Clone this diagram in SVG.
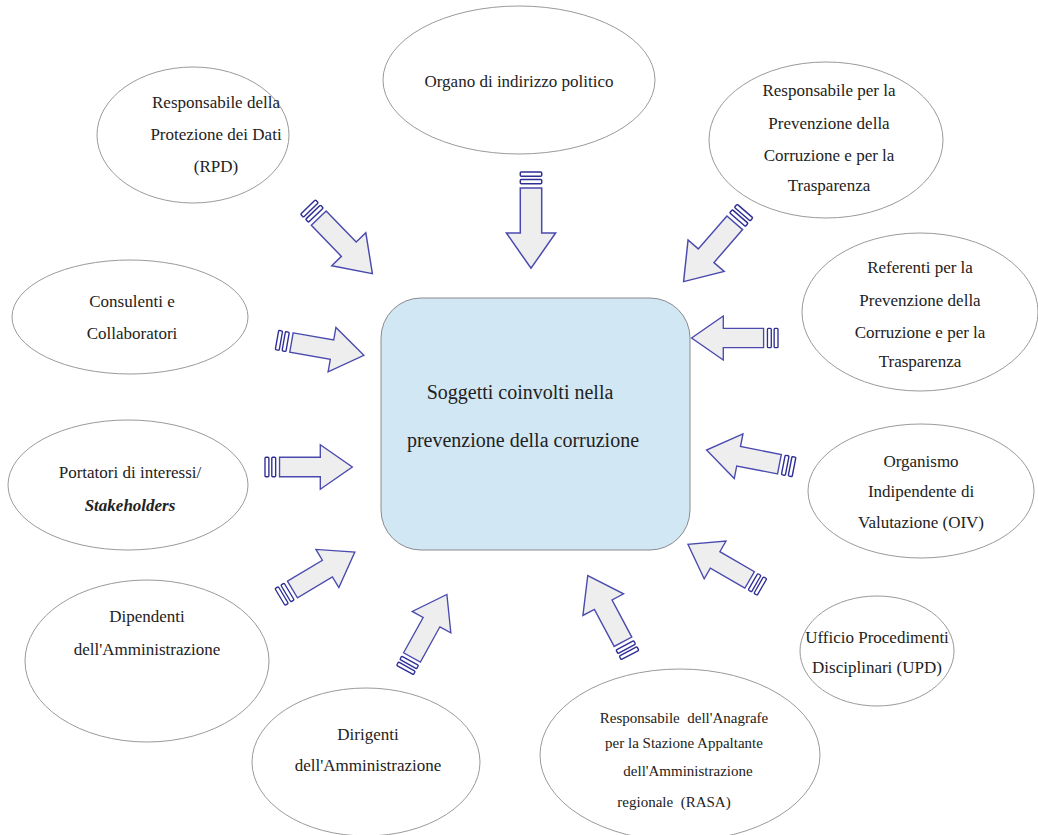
<svg xmlns="http://www.w3.org/2000/svg" width="1038" height="835" viewBox="0 0 1038 835">
<defs>
<style>
.ell{fill:#ffffff;stroke:#9a9a9a;stroke-width:1}
.t{font-family:"Liberation Serif","DejaVu Serif",serif;font-size:17px;fill:#222;text-anchor:middle}
.tc{font-family:"Liberation Serif","DejaVu Serif",serif;font-size:20px;fill:#222;text-anchor:middle}
.ts{font-family:"Liberation Serif","DejaVu Serif",serif;font-size:15px;fill:#222;text-anchor:middle}
.ab{fill:#eeeeee;stroke:#4a4aae;stroke-width:1.4;stroke-linejoin:miter}
.st{fill:#ffffff;stroke:#2e2e96;stroke-width:1.4}
</style>
<g id="arr">
<rect class="st" x="0" y="-10" width="4" height="20" rx="1"/>
<rect class="st" x="7" y="-10" width="4" height="20" rx="1"/>
<path class="ab" d="M15,-10 H57 V-23 L90,0 L57,23 V10 H15 Z"/>
</g>
</defs>
<rect width="1038" height="835" fill="#ffffff"/>

<g id="center">
<rect x="381" y="298" width="309" height="252" rx="40" ry="40" fill="#d2e7f4" stroke="#8a8a8a" stroke-width="1"/>
<text class="tc" x="520" y="399">Soggetti coinvolti nella</text>
<text class="tc" x="523" y="447">prevenzione della corruzione</text>
</g>

<g id="rpd">
<ellipse class="ell" cx="193" cy="135" rx="96" ry="68"/>
<text class="t" x="216" y="108">Responsabile della</text>
<text class="t" x="216" y="140">Protezione dei Dati</text>
<text class="t" x="216" y="172">(RPD)</text>
</g>

<g id="organo">
<ellipse class="ell" cx="519" cy="80" rx="136" ry="74"/>
<text class="t" x="519" y="87">Organo di indirizzo politico</text>
</g>

<g id="rpct">
<ellipse class="ell" cx="826" cy="140" rx="117" ry="78"/>
<text class="t" x="829" y="96">Responsabile per la</text>
<text class="t" x="829" y="129">Prevenzione della</text>
<text class="t" x="829" y="161">Corruzione e per la</text>
<text class="t" x="829" y="191">Trasparenza</text>
</g>

<g id="referenti">
<ellipse class="ell" cx="920" cy="312" rx="118" ry="79"/>
<text class="t" x="920" y="273">Referenti per la</text>
<text class="t" x="920" y="306">Prevenzione della</text>
<text class="t" x="920" y="338">Corruzione e per la</text>
<text class="t" x="920" y="367">Trasparenza</text>
</g>

<g id="consulenti">
<ellipse class="ell" cx="130" cy="317" rx="118" ry="57"/>
<text class="t" x="132" y="307">Consulenti e</text>
<text class="t" x="132" y="339">Collaboratori</text>
</g>

<g id="portatori">
<ellipse class="ell" cx="128" cy="485" rx="120" ry="65"/>
<text class="t" x="130" y="478">Portatori di interessi/</text>
<text class="t" x="130" y="511" font-weight="bold" font-style="italic">Stakeholders</text>
</g>

<g id="oiv">
<ellipse class="ell" cx="921" cy="491" rx="113" ry="67"/>
<text class="t" x="921" y="467">Organismo</text>
<text class="t" x="921" y="497">Indipendente di</text>
<text class="t" x="921" y="528">Valutazione (OIV)</text>
</g>

<g id="dipendenti">
<ellipse class="ell" cx="147" cy="661" rx="122" ry="81"/>
<text class="t" x="147" y="622">Dipendenti</text>
<text class="t" x="147" y="655">dell'Amministrazione</text>
</g>

<g id="upd">
<ellipse class="ell" cx="877" cy="651" rx="77" ry="55"/>
<text class="t" x="877" y="643">Ufficio Procedimenti</text>
<text class="t" x="877" y="673">Disciplinari (UPD)</text>
</g>

<g id="dirigenti">
<ellipse class="ell" cx="366" cy="762" rx="114" ry="74"/>
<text class="t" x="368" y="740">Dirigenti</text>
<text class="t" x="368" y="771">dell'Amministrazione</text>
</g>

<g id="rasa">
<ellipse class="ell" cx="680" cy="755" rx="140" ry="86"/>
<text class="ts" x="684" y="723" xml:space="preserve">Responsabile  dell'Anagrafe</text>
<text class="ts" x="684" y="748">per la Stazione Appaltante</text>
<text class="ts" x="688" y="776">dell'Amministrazione</text>
<text class="ts" x="674" y="807" xml:space="preserve">regionale  (RASA)</text>
</g>

<g id="connectors">
<use href="#arr" transform="translate(308,207) rotate(46) scale(1.03)"/>
<use href="#arr" transform="translate(531,172) rotate(90) scale(1.07)"/>
<use href="#arr" transform="translate(745,211) rotate(131) scale(1.04)"/>
<use href="#arr" transform="translate(277,340) rotate(10) scale(0.98)"/>
<use href="#arr" transform="translate(778,338) rotate(180) scale(0.96)"/>
<use href="#arr" transform="translate(265,467) rotate(0) scale(0.97)"/>
<use href="#arr" transform="translate(794,467) rotate(191) scale(0.99)"/>
<use href="#arr" transform="translate(280,597) rotate(-31) scale(0.97)"/>
<use href="#arr" transform="translate(405,670) rotate(-61) scale(0.96)"/>
<use href="#arr" transform="translate(630,655) rotate(-118) scale(1.0)"/>
<use href="#arr" transform="translate(762,587) rotate(-150) scale(0.95)"/>
</g>
</svg>
